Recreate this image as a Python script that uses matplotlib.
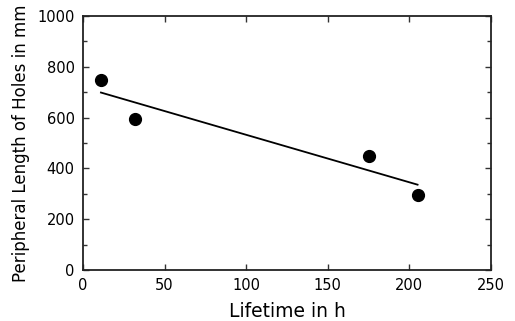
import numpy as np
import matplotlib
matplotlib.use('Agg')
import matplotlib.pyplot as plt
from matplotlib.ticker import MultipleLocator

# Measured points
lifetime = [11, 32, 175, 205]          # h
hole_length = [748, 594, 450, 294]      # mm

x_ticks = [0, 50, 100, 150, 200, 250]
y_ticks = [0, 200, 400, 600, 800, 1000]

# linear fit through the points
k, b = np.polyfit(lifetime, hole_length, 1)
fit_x = np.array([min(lifetime), max(lifetime)])
fit_y = k * fit_x + b

plt.rcParams['font.family'] = ['DejaVu Sans']
fig = plt.figure(figsize=(5.15, 3.21), dpi=100)
ax = fig.add_axes([83 / 515, 51 / 321, 408 / 515, 254 / 321])

ax.plot(fit_x, fit_y, color='black', linewidth=1.3)
ax.plot(lifetime, hole_length, 'o', color='black', markersize=8.5)

ax.set_xlim(0, 250)
ax.set_ylim(0, 1000)
ax.set_xticks(x_ticks)
ax.set_yticks(y_ticks)
ax.yaxis.set_minor_locator(MultipleLocator(100))
ax.tick_params(which='both', direction='in', top=True, right=True, width=1.0, color='#333333')
ax.tick_params(which='major', length=4, labelsize=10.5, pad=6)
ax.tick_params(which='minor', length=3)
for s in ax.spines.values():
    s.set_linewidth(1.3)
    s.set_color('#222222')

ax.set_xlabel('Lifetime in h', fontsize=13.5, labelpad=6)
ax.set_ylabel('Peripheral Length of Holes in mm', fontsize=12, labelpad=5)

fig.savefig('out.png', dpi=100)
